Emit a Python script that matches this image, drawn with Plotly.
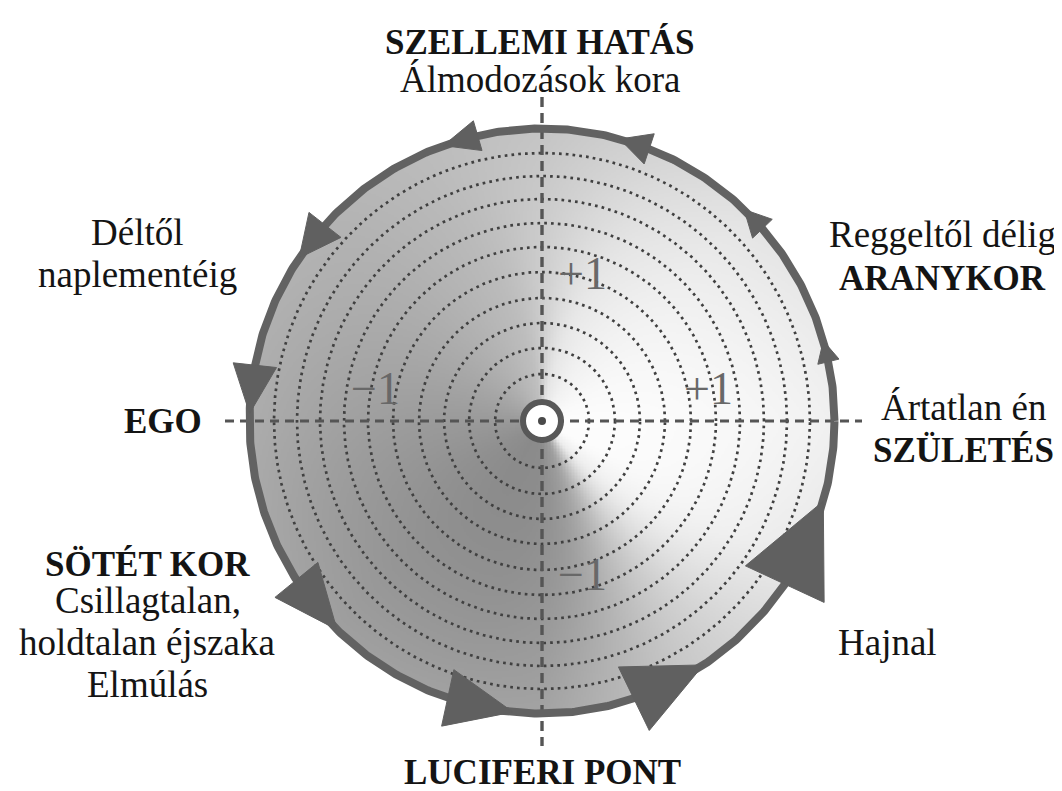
import numpy as np
import plotly.graph_objects as go

# ---------------- data ----------------
label_texts = ["SZELLEMI HATÁS", "Álmodozások kora",
               "Déltől", "naplementéig",
               "EGO",
               "SÖTÉT KOR", "Csillagtalan,", "holdtalan éjszaka", "Elmúlás",
               "Reggeltől délig", "ARANYKOR",
               "Ártatlan én", "SZÜLETÉS",
               "Hajnal",
               "LUCIFERI PONT"]
label_bold = [True, False, False, False, True, True, False, False, False,
              False, True, False, True, False, True]
scale_texts = ["+1", "\u22121", "+1", "\u22121"]          # top, left, right, bottom
dotted_ring_radii = [47, 73, 98, 123, 149, 174, 198, 222, 245, 268]
arrow_tip_deg = [109.7, 74.6, 46.3, 15.9, -15.9, -56.5, 264.3, 225.5, 178.5, 146.1]
arrow_base_deg = [102.7, 68.5, 41.1, 11.7, -33.9, -71.7, 251.2, 212.9, 169.0, 137.9]
arrow_half_width = [15.5, 15.9, 13.6, 10.9, 43.4, 35.3, 28.9, 27.7, 21.8, 20.3]

# ---------------- layout / style ----------------
W, H = 1062, 791
PAGE_OFF = 8               # default body margin of the html page
CX, CY = 542, 421          # pixel position of the circle centre (in the window)
R = 292.5                  # outer ring radius (px)

def X(px):
    return px - CX

def Y(py):
    return CY - py

label_pos = [(540, 42), (540, 79), (137, 232), (137, 274), (163, 421),
             (147, 564), (148, 600), (147, 642), (147, 684),
             (942, 234), (942, 278), (963, 407), (963, 450), (887, 642),
             (542, 772)]
scale_pos = [(582, 273), (375, 388), (708, 388), (582, 574)]

# shading stops (grey levels) of the disc (decorative background, light from lower right)
inner_ang = [0, 30, 60, 80, 95, 120, 150, 180, 210, 240, 270, 290, 300, 310, 330]
inner_val = [253, 249, 241, 230, 192, 180, 166, 153, 143, 138, 140, 160, 197, 236, 252]
outer_ang = [0, 45, 90, 135, 180, 225, 270, 300, 330]
outer_val = [240, 226, 196, 180, 173, 160, 163, 200, 232]

def inner_shade(th):
    return np.interp(th % 360.0, inner_ang, inner_val, period=360)

def outer_shade(th):
    return np.interp(th % 360.0, outer_ang, outer_val, period=360)

fig = go.Figure()

# ---- shaded disc ----
step = 1.5
gx = np.arange(-R - 2, R + 2 + step, step)
gy = np.arange(-R - 2, R + 2 + step, step)
XX, YY = np.meshgrid(gx, gy)
RR = np.hypot(XX, YY)
TH = np.degrees(np.arctan2(YY, XX))
q = np.clip(RR / R, 0, 1)
wdeg = 4 + 55 * q ** 1.2
offs = np.linspace(-0.5, 0.5, 17)
inner = np.mean([inner_shade(TH + o * wdeg) for o in offs], axis=0)
tmix = q ** 2.4
shade = (1 - tmix) * inner + tmix * outer_shade(TH)
shade[RR > R - 1] = np.nan
fig.add_trace(go.Heatmap(x=gx, y=gy, z=shade, zmin=0, zmax=255,
                         colorscale=[[0, "rgb(0,0,0)"], [1, "rgb(255,255,255)"]],
                         showscale=False, hoverinfo="skip", zsmooth=False))

# ---- dotted concentric circles ----
ang = np.linspace(0, 2 * np.pi, 721)
for rr in dotted_ring_radii:
    fig.add_trace(go.Scatter(x=rr * np.cos(ang), y=rr * np.sin(ang), mode="lines",
                             line=dict(color="#404040", width=2.7, dash="2.7px,4.1px"),
                             hoverinfo="skip", showlegend=False))

# ---- dashed axes ----
fig.add_trace(go.Scatter(x=[X(225), X(862)], y=[0, 0], mode="lines",
                         line=dict(color="#555555", width=3.2, dash="9px,6px"),
                         hoverinfo="skip", showlegend=False))
fig.add_trace(go.Scatter(x=[0, 0], y=[Y(97), Y(746)], mode="lines",
                         line=dict(color="#555555", width=3.4, dash="10px,6px"),
                         hoverinfo="skip", showlegend=False))

# ---- outer ring ----
fig.add_trace(go.Scatter(x=R * np.cos(ang), y=R * np.sin(ang), mode="lines",
                         line=dict(color="#626262", width=8), hoverinfo="skip",
                         showlegend=False))

# ---- arrow heads (counter-clockwise) ----
ax_all, ay_all = [], []
for tdeg, bdeg, hw in zip(arrow_tip_deg, arrow_base_deg, arrow_half_width):
    ta, ba = np.radians(tdeg), np.radians(bdeg)
    T = np.array([R * np.cos(ta), R * np.sin(ta)])
    B = np.array([R * np.cos(ba), R * np.sin(ba)])
    d = (T - B) / np.linalg.norm(T - B)
    n = np.array([-d[1], d[0]])
    P1 = B + hw * n
    P2 = B - hw * n
    ax_all += [T[0], P1[0], P2[0], T[0], None]
    ay_all += [T[1], P1[1], P2[1], T[1], None]
fig.add_trace(go.Scatter(x=ax_all, y=ay_all, mode="lines", fill="toself",
                         fillcolor="#606060", line=dict(color="#606060", width=1),
                         hoverinfo="skip", showlegend=False))

# ---- centre mark ----
fig.add_trace(go.Scatter(x=[0], y=[0], mode="markers",
                         marker=dict(size=38, color="white", line=dict(color="#585858", width=6)),
                         hoverinfo="skip", showlegend=False))
fig.add_trace(go.Scatter(x=[0], y=[0], mode="markers",
                         marker=dict(size=8, color="#4a4a4a"),
                         hoverinfo="skip", showlegend=False))

# ---- scale labels ----
for txt, (px, py) in zip(scale_texts, scale_pos):
    fig.add_annotation(x=X(px), y=Y(py), text=txt, showarrow=False,
                       xanchor="center", yanchor="middle",
                       font=dict(family="Liberation Serif", size=46, color="#686868"))

# ---- text labels ----
for txt, bold, (px, py) in zip(label_texts, label_bold, label_pos):
    fig.add_annotation(x=X(px), y=Y(py), text=f"<b>{txt}</b>" if bold else txt,
                       showarrow=False, xanchor="center", yanchor="middle",
                       font=dict(family="Liberation Serif", size=35 if bold else 37,
                                 color="#141414"))

fig.update_layout(
    width=W, height=H, margin=dict(l=0, r=0, t=0, b=0),
    paper_bgcolor="white", plot_bgcolor="white",
    xaxis=dict(range=[X(PAGE_OFF), X(W + PAGE_OFF)], visible=False, fixedrange=True),
    yaxis=dict(range=[Y(H + PAGE_OFF), Y(PAGE_OFF)], visible=False, fixedrange=True),
    showlegend=False,
)
fig.write_html("out.html")
